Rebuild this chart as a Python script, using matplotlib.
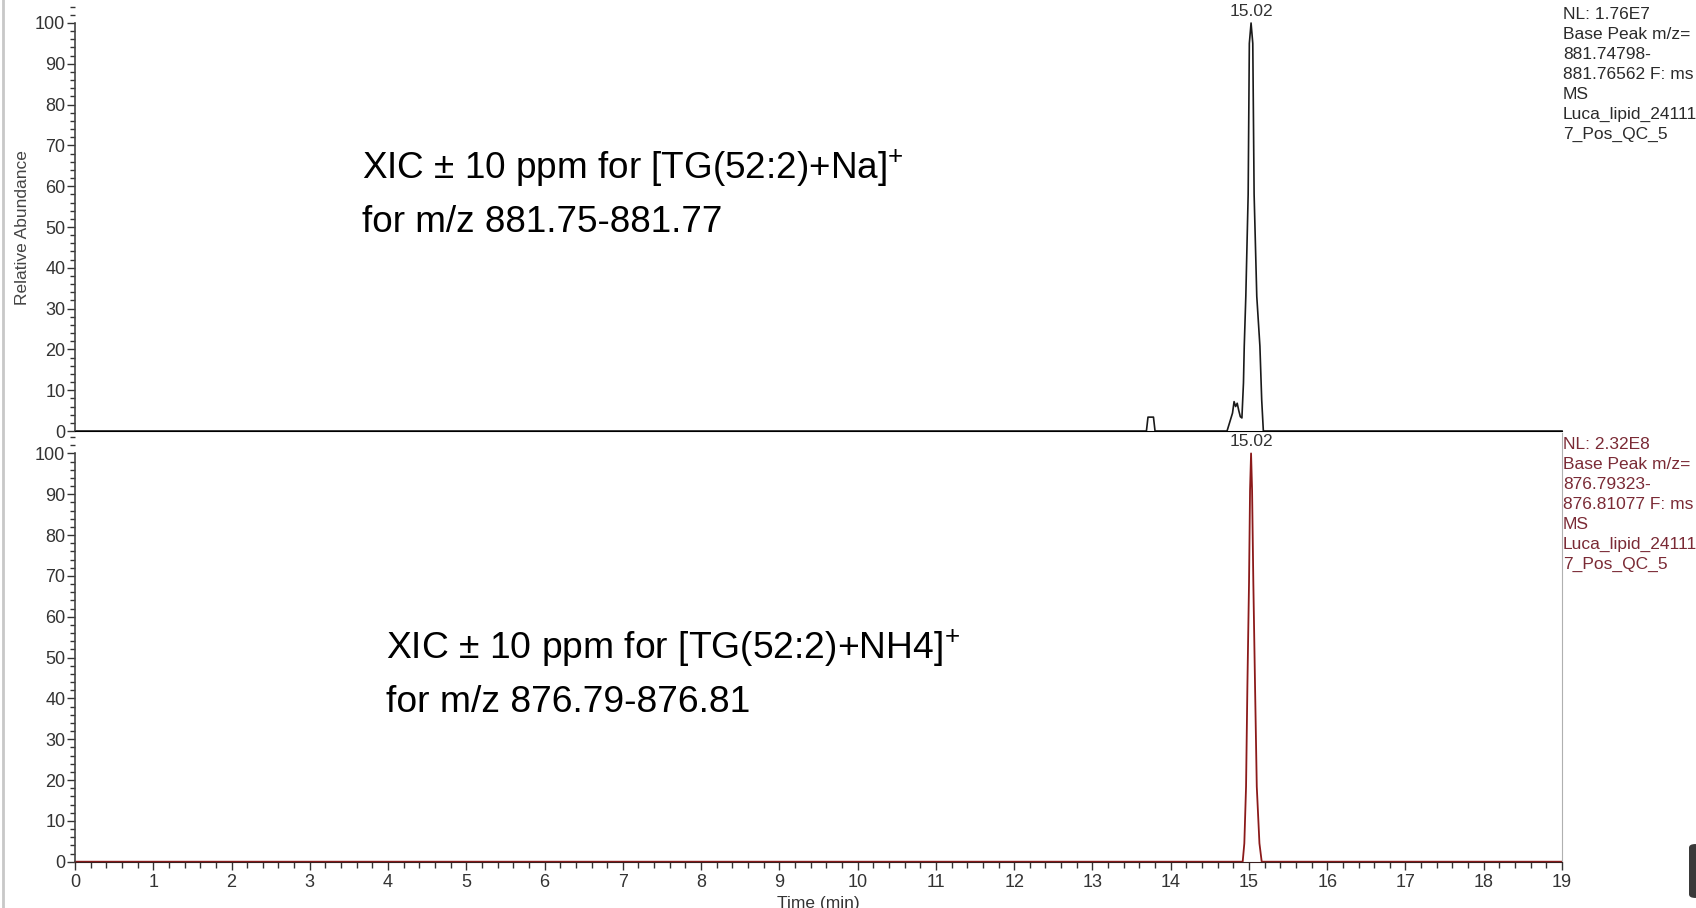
import matplotlib
matplotlib.use("Agg")
import matplotlib.pyplot as plt
from matplotlib.ticker import MultipleLocator
from matplotlib.patches import FancyBboxPatch
from matplotlib.lines import Line2D

plt.rcParams['font.family'] = ['Liberation Sans', 'DejaVu Sans']
plt.rcParams['mathtext.fontset'] = 'custom'
plt.rcParams['mathtext.rm'] = 'Liberation Sans'

# XIC [TG(52:2)+Na]+ (top trace)
na_time = [0.0, 13.69, 13.71, 13.78, 13.80, 14.72, 14.76, 14.79, 14.81, 14.83,
           14.85, 14.87, 14.89, 14.91, 14.93, 14.94, 14.96, 14.99, 15.005, 15.027,
           15.049, 15.066, 15.10, 15.14, 15.163, 15.184, 19.0]
na_abund = [0, 0, 3.4, 3.4, 0, 0, 2.5, 4.4, 7.2, 6.0,
            6.8, 5.0, 3.5, 3.2, 11.8, 20.8, 33, 58, 95, 100,
            95, 58, 33, 20.8, 7.6, 0, 0]

# XIC [TG(52:2)+NH4]+ (bottom trace)
nh4_time = [0.0, 14.92, 14.941, 14.963, 14.98, 15.001, 15.014, 15.027,
            15.04, 15.056, 15.078, 15.10, 15.134, 15.163, 19.0]
nh4_abund = [0, 0, 4.5, 18.4, 42.9, 68.4, 91, 100,
             91, 68.4, 42.9, 18.4, 4.5, 0, 0]

na_apex_label = "15.02"
nh4_apex_label = "15.02"

na_title = [r"XIC ± 10 ppm for [TG(52:2)+Na]$^{\mathrm{+}}$", "for m/z 881.75-881.77"]
nh4_title = [r"XIC ± 10 ppm for [TG(52:2)+NH4]$^{\mathrm{+}}$", "for m/z 876.79-876.81"]

na_info = ["NL: 1.76E7", "Base Peak m/z=", "881.74798-", "881.76562 F: ms",
           "MS", "Luca_lipid_24111", "7_Pos_QC_5"]
nh4_info = ["NL: 2.32E8", "Base Peak m/z=", "876.79323-", "876.81077 F: ms",
            "MS", "Luca_lipid_24111", "7_Pos_QC_5"]

W, H = 1696, 908
LEFT, RIGHT = 75, 1562


def fx(px):
    return px / W


def fy(py):
    return 1 - py / H


fig = plt.figure(figsize=(W / 100, H / 100), dpi=100)
fig.patch.set_facecolor('white')

ax_top = fig.add_axes([fx(LEFT), fy(431), (RIGHT - LEFT) / W, (431 - 2.6) / H])
ax_bot = fig.add_axes([fx(LEFT), fy(861.7), (RIGHT - LEFT) / W, (861.7 - 433) / H])

tick_col = '#333333'
na_col = '#1a1a1a'
nh4_col = '#8b1a1a'

for ax in (ax_top, ax_bot):
    ax.set_xlim(0, 19)
    ax.set_ylim(0, 105)
    ax.yaxis.set_major_locator(MultipleLocator(10))
    ax.yaxis.set_minor_locator(MultipleLocator(2))
    ax.tick_params(axis='y', which='major', length=6, width=1, color=tick_col,
                   labelsize=13, labelcolor=tick_col, pad=1)
    ax.tick_params(axis='y', which='minor', length=3.5, width=1, color=tick_col)
    ax.spines['top'].set_visible(False)
    ax.spines['left'].set_bounds(0, 100)
    ax.spines['left'].set_color('#444444')
    ax.spines['left'].set_linewidth(1.2)
    ax.patch.set_alpha(0)

ax_top.spines['right'].set_visible(False)
ax_top.spines['bottom'].set_color('black')
ax_top.tick_params(axis='x', which='both', bottom=False, labelbottom=False)

ax_bot.spines['right'].set_color('#b0b0b0')
ax_bot.spines['bottom'].set_color('#3a2020')
ax_bot.xaxis.set_major_locator(MultipleLocator(1))
ax_bot.xaxis.set_minor_locator(MultipleLocator(0.2))
ax_bot.tick_params(axis='x', which='major', length=6, width=1, color=tick_col,
                   labelsize=13, labelcolor=tick_col, pad=2.5)
ax_bot.tick_params(axis='x', which='minor', length=4, width=1, color=tick_col)

ax_top.plot(na_time, na_abund, color=na_col, lw=1.2, clip_on=False)
ax_bot.plot(nh4_time, nh4_abund, color=nh4_col, lw=1.3, clip_on=False)

i = na_abund.index(max(na_abund))
ax_top.annotate(na_apex_label, (na_time[i], na_abund[i]), xytext=(0, 3),
                textcoords='offset points', ha='center', va='bottom',
                fontsize=12.5, color=tick_col, annotation_clip=False)
i = nh4_abund.index(max(nh4_abund))
ax_bot.annotate(nh4_apex_label, (nh4_time[i], nh4_abund[i]), xytext=(0, 3),
                textcoords='offset points', ha='center', va='bottom',
                fontsize=12.5, color=tick_col, annotation_clip=False)

ax_top.set_ylabel("Relative Abundance", fontsize=12.5, color='#444444')
ax_top.yaxis.set_label_coords(-0.03, 0.476)
ax_bot.set_xlabel("Time (min)", fontsize=12.5, color=tick_col)
ax_bot.xaxis.set_label_coords(0.5, -0.08)

# big annotations
fig.text(fx(362), fy(180), na_title[0], fontsize=26.6, va='baseline', color='black')
fig.text(fx(362), fy(232), na_title[1], fontsize=26.6, va='baseline', color='black')
fig.text(fx(386), fy(660), nh4_title[0], fontsize=26.8, va='baseline', color='black')
fig.text(fx(386), fy(712), nh4_title[1], fontsize=26.8, va='baseline', color='black')

# instrument info blocks on the right
for k, line in enumerate(na_info):
    fig.text(fx(1563), fy(19 + 20 * k), line, fontsize=12.5, va='baseline',
             color='#2a2a2a')
for k, line in enumerate(nh4_info):
    fig.text(fx(1563), fy(449 + 20 * k), line, fontsize=12.5, va='baseline',
             color='#7a2a35')

# window frame remnants
fig.add_artist(Line2D([fx(3), fx(3)], [0, 1], color='#c8c8c8', lw=2))
fig.add_artist(FancyBboxPatch((fx(1689), fy(898)), 12 / W, 54 / H,
                              boxstyle='round,pad=0,rounding_size=0.004',
                              transform=fig.transFigure, facecolor='#3a3a3a',
                              edgecolor='none'))

fig.savefig("out.png", dpi=100)
